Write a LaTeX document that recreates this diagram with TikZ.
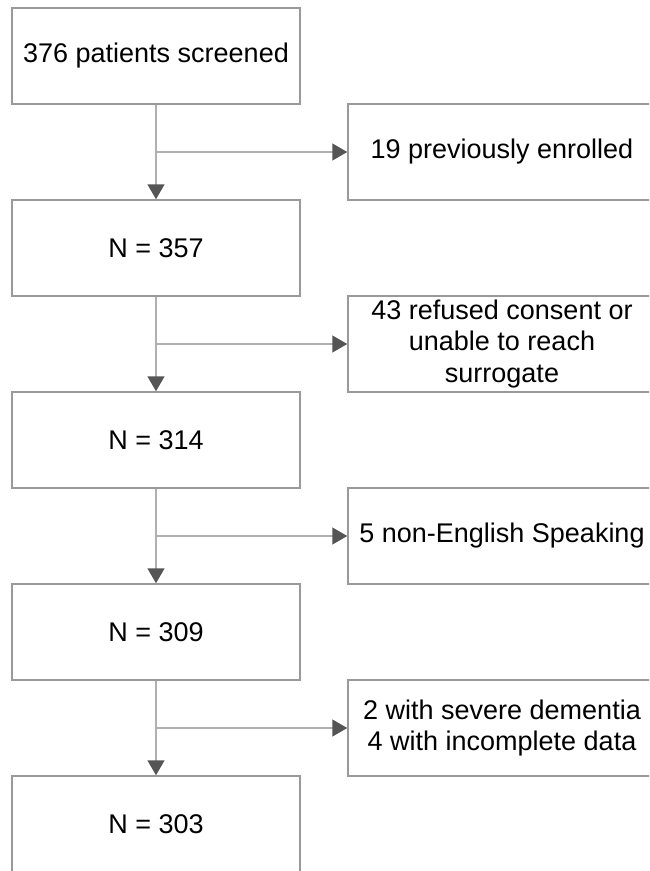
\documentclass[tikz,border=0pt]{standalone}
\usepackage{fontspec}
\setmainfont{Liberation Sans}
\usetikzlibrary{arrows.meta}
\definecolor{boxgray}{HTML}{999999}
\definecolor{linegray}{HTML}{B0B0B0}
\definecolor{tipgray}{HTML}{555555}
\begin{document}
\begin{tikzpicture}[x=1pt,y=-1pt,
  mainbox/.style={draw=boxgray, line width=1.5pt, minimum width=288pt, minimum height=96pt, inner sep=0pt, align=center, font=\fontsize{27}{31.5}\selectfont},
  sidebox/.style={mainbox, minimum width=308pt},
  conn/.style={draw=linegray, line width=1.5pt},
  arr/.style={conn, -{Triangle[width=17pt,length=15pt,fill=tipgray,color=tipgray]}}]
\useasboundingbox (0,0) rectangle (649,871);
\begin{scope}
\clip (0,0) rectangle (649,871);
\node[mainbox] (b1) at (156,56) {376 patients screened};
\node[mainbox] (b2) at (156,248) {N = 357};
\node[mainbox] (b3) at (156,440) {N = 314};
\node[mainbox] (b4) at (156,632) {N = 309};
\node[mainbox] (b5) at (156,824) {N = 303};
\node[sidebox] (r1) at (502,152) {19 previously enrolled};
\node[sidebox] (r2) at (502,344) {43 refused consent or\\unable to reach\\surrogate};
\node[sidebox] (r3) at (502,536) {5 non-English Speaking};
\node[sidebox] (r4) at (502,728) {2 with severe dementia\\4 with incomplete data};
\draw[arr] (b1.south) -- (b2.north);
\draw[arr] (b2.south) -- (b3.north);
\draw[arr] (b3.south) -- (b4.north);
\draw[arr] (b4.south) -- (b5.north);
\draw[arr] (b1.south |- r1.west) -- (r1.west);
\draw[arr] (b2.south |- r2.west) -- (r2.west);
\draw[arr] (b3.south |- r3.west) -- (r3.west);
\draw[arr] (b4.south |- r4.west) -- (r4.west);
\end{scope}
\end{tikzpicture}
\end{document}
